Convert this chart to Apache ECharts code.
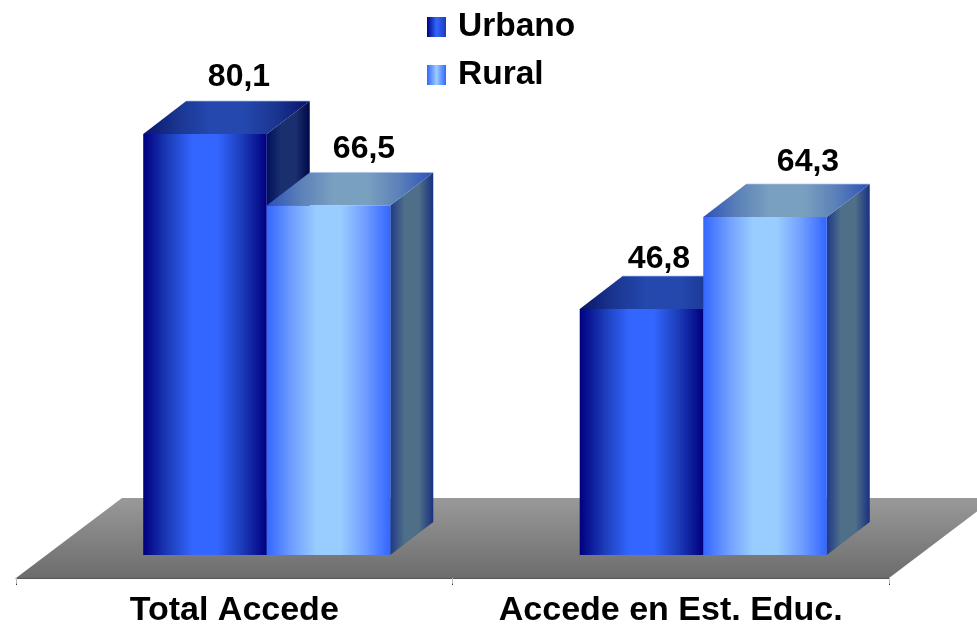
<!DOCTYPE html>
<html>
<head>
<meta charset="utf-8">
<style>
html, body { margin: 0; padding: 0; background: #fff; }
#chart { width: 977px; height: 626px; }
</style>
</head>
<body>
<div id="chart"></div>
<script src="https://cdn.jsdelivr.net/npm/echarts@6/dist/echarts.min.js"></script>
<script>
const categories = ['Total Accede', 'Accede en Est. Educ.'];
const urbano = [80.1, 46.8];
const rural = [66.5, 64.3];

const FONT = '"Liberation Sans", Arial, sans-serif';
// the columns stand back from the front edge of the floor
const standX = 32.5, standY = -23;
const depthX = 43, depthY = -33;
const floorX = 106, floorY = -80;

// the labels were moved by hand in the original chart
const urbanoLabel = [[34, -57], [17.5, -49.5]];
const ruralLabel = [[35.5, -56], [43, -55]];

function grad(x0, y0, x1, y1, colors) {
  return new echarts.graphic.LinearGradient(x0, y0, x1, y1, colors.map(function (c, i) {
    return { offset: i / (colors.length - 1), color: c };
  }), true);
}

function barRenderer(side, faces, labels) {
  return function (params, api) {
    const p = api.coord([api.value(0), api.value(1)]);
    const base = api.coord([api.value(0), 0]);
    const w = api.size([1, 0])[0] * 0.283;
    const left = p[0] + standX + (side === 0 ? -w : 0);
    const right = left + w;
    const top = p[1] + standY;
    const bottom = base[1] + standY;
    return {
      type: 'group',
      children: [
        {
          type: 'polygon',
          shape: { points: [[right, top], [right + depthX, top + depthY], [right + depthX, bottom + depthY], [right, bottom]] },
          style: { fill: grad(right, 0, right + depthX, 0, faces.side) }
        },
        {
          type: 'polygon',
          shape: { points: [[left, top], [right, top], [right + depthX, top + depthY], [left + depthX, top + depthY]] },
          style: { fill: grad(left, 0, right + depthX, 0, faces.top) }
        },
        {
          type: 'polyline',
          shape: { points: [[left + depthX, top + depthY], [right + depthX, top + depthY]] },
          style: { fill: null, stroke: 'rgba(170,190,240,0.7)', lineWidth: 1 }
        },
        {
          type: 'rect',
          shape: { x: left, y: top, width: w, height: bottom - top },
          style: { fill: grad(left, 0, right, 0, faces.front) }
        },
        {
          type: 'text',
          x: (left + right) / 2 + labels[params.dataIndex][0],
          y: top + labels[params.dataIndex][1],
          style: {
            text: String(api.value(1)).replace('.', ','),
            font: 'bold 32px ' + FONT,
            fill: '#000',
            align: 'center',
            verticalAlign: 'middle'
          }
        }
      ]
    };
  };
}

const urbanoFaces = {
  front: ['#000080', '#1c3cb8', '#3366ff', '#3366ff', '#1c3cb8', '#000080'],
  top: ['#08156a', '#1a3590', '#2448ae', '#2448ae', '#1a3590', '#08126a'],
  side: ['#00105a', '#1a2f6e', '#1a2f6e', '#000848']
};
const ruralFaces = {
  front: ['#3366ff', '#6f9dff', '#99ccff', '#99ccff', '#6f9dff', '#3366ff'],
  top: ['#2c50b8', '#5a80b8', '#7aa0c0', '#7aa0c0', '#5a80b8', '#2c50b8'],
  side: ['#1f3a88', '#4f6f88', '#4f6f88', '#1a3080']
};

const chart = echarts.init(document.getElementById('chart'), null, { renderer: 'canvas' });
chart.setOption({
  animation: false,
  backgroundColor: '#fff',
  legend: {
    data: ['Urbano', 'Rural'],
    orient: 'vertical',
    left: 427,
    top: 10,
    padding: 0,
    itemWidth: 19,
    itemHeight: 20,
    itemGap: 14,
    icon: 'rect',
    selectedMode: false,
    textStyle: { fontFamily: FONT, fontWeight: 'bold', fontSize: 33.5, color: '#000', padding: [0, 0, 16, 7] }
  },
  grid: { left: 16, right: 88, top: 52.4, bottom: 48, outerBoundsMode: 'none' },
  xAxis: {
    type: 'category',
    data: categories,
    axisLine: { lineStyle: { color: '#555', width: 1 } },
    axisTick: { show: true, length: 7, lineStyle: { color: grad(0, 578, 0, 585, ['#bbb', '#bbb', '#bbb', '#bbb', '#999', '#000']) } },
    axisLabel: { fontFamily: FONT, fontWeight: 'bold', fontSize: 34, color: '#000', margin: 16, interval: 0 }
  },
  yAxis: { type: 'value', min: 0, max: 100, show: false },
  series: [
    {
      name: 'floor',
      type: 'custom',
      silent: true,
      z: 1,
      data: [0],
      renderItem: function (params) {
        const g = params.coordSys;
        const y0 = g.y + g.height;
        return {
          type: 'polygon',
          shape: { points: [[g.x, y0], [g.x + g.width, y0], [g.x + g.width + floorX, y0 + floorY], [g.x + floorX, y0 + floorY]] },
          style: { fill: grad(0, y0 + floorY, 0, y0, ['#999999', '#6c6c6c']) }
        };
      }
    },
    {
      name: 'Urbano',
      type: 'custom',
      z: 3,
      itemStyle: { color: new echarts.graphic.LinearGradient(0, 0, 1, 0, [
        { offset: 0, color: '#000080' }, { offset: 0.5, color: '#3366ff' }, { offset: 1, color: '#1c3cb8' }
      ]) },
      encode: { x: 0, y: 1 },
      data: urbano.map(function (v, i) { return [i, v]; }),
      renderItem: barRenderer(0, urbanoFaces, urbanoLabel)
    },
    {
      name: 'Rural',
      type: 'custom',
      z: 4,
      itemStyle: { color: new echarts.graphic.LinearGradient(0, 0, 1, 0, [
        { offset: 0, color: '#3366ff' }, { offset: 0.5, color: '#99ccff' }, { offset: 1, color: '#3366ff' }
      ]) },
      encode: { x: 0, y: 1 },
      data: rural.map(function (v, i) { return [i, v]; }),
      renderItem: barRenderer(1, ruralFaces, ruralLabel)
    }
  ]
});
</script>
</body>
</html>
